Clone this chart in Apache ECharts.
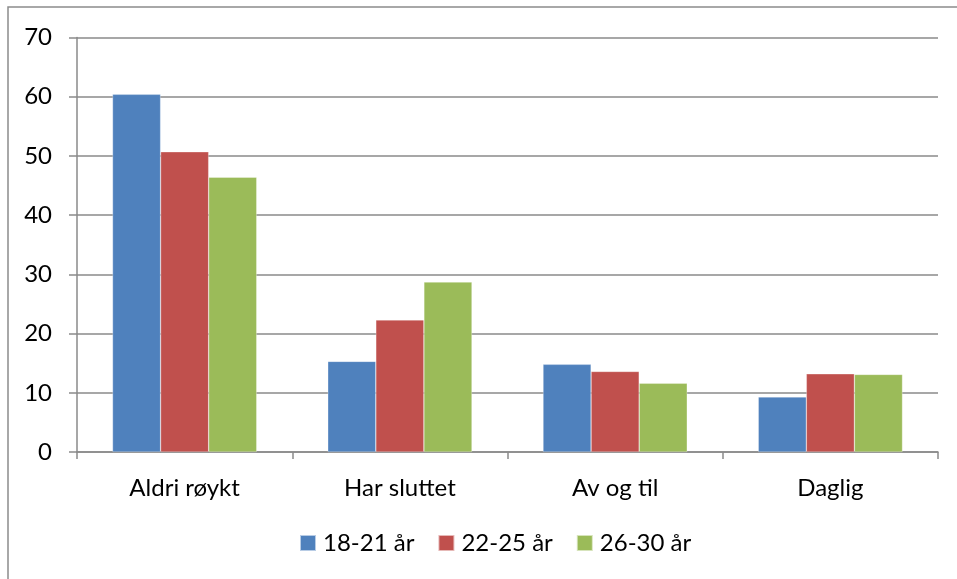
<!DOCTYPE html>
<html>
<head>
<meta charset="utf-8">
<script src="https://cdn.jsdelivr.net/npm/echarts@6/dist/echarts.min.js"></script>
<style>
  html, body { margin: 0; padding: 0; background: #fff; }
  #chart { width: 957px; height: 579px; }
</style>
</head>
<body>
<div id="chart"></div>
<script>
const categories = ['Aldri røykt', 'Har sluttet', 'Av og til', 'Daglig'];
const seriesNames = ['18-21 år', '22-25 år', '26-30 år'];
const values1821 = [60.4, 15.3, 14.8, 9.3];
const values2225 = [50.7, 22.3, 13.6, 13.2];
const values2630 = [46.4, 28.7, 11.6, 13.1];
const yTicks = [0, 10, 20, 30, 40, 50, 60, 70];

const colors = ['#4F81BD', '#C0504D', '#9BBB59'];
const font = 'Lato, "Open Sans", sans-serif';

const chart = echarts.init(document.getElementById('chart'));

const makeSeries = (name, data, i) => ({
  name: name,
  type: 'bar',
  data: data,
  barGap: '0%',
  barCategoryGap: '33%',
  itemStyle: { color: colors[i], borderColor: 'rgba(255,255,255,0.6)', borderWidth: 0.5 },
});

chart.setOption({
  animation: false,
  graphic: [{
    type: 'rect',
    shape: { x: 8, y: 7, width: 1000, height: 1000 },
    style: { fill: 'none', stroke: '#8c8c8c', lineWidth: 1.5 },
    silent: true,
  }],
  legend: {
    data: seriesNames,
    left: 299,
    top: 531,
    padding: 0,
    itemWidth: 16,
    itemHeight: 16,
    itemGap: 23,
    icon: 'rect',
    textStyle: { fontSize: 24, fontFamily: font, color: '#000', padding: [0, 0, 0, 2] },
  },
  grid: {
    left: 77,
    right: 19,
    top: 37.5,
    bottom: 127,
    containLabel: false,
  },
  xAxis: {
    type: 'category',
    data: categories,
    axisLine: { lineStyle: { color: '#8a8a8a', width: 1.5 } },
    axisTick: { show: true, length: 7, lineStyle: { color: '#8a8a8a', width: 1.5 } },
    axisLabel: { fontSize: 24, fontFamily: font, color: '#000', margin: 24 },
  },
  yAxis: {
    type: 'value',
    min: yTicks[0],
    max: yTicks[yTicks.length - 1],
    interval: 10,
    axisLine: { show: true, lineStyle: { color: '#8a8a8a', width: 1.5 } },
    axisTick: { show: true, length: 8, lineStyle: { color: '#8a8a8a', width: 1.5 } },
    splitLine: { show: true, lineStyle: { color: '#8a8a8a', width: 1.5 } },
    axisLabel: { fontSize: 24, fontFamily: font, color: '#000', margin: 25 },
  },
  series: [
    makeSeries(seriesNames[0], values1821, 0),
    makeSeries(seriesNames[1], values2225, 1),
    makeSeries(seriesNames[2], values2630, 2),
  ],
});
</script>
</body>
</html>
